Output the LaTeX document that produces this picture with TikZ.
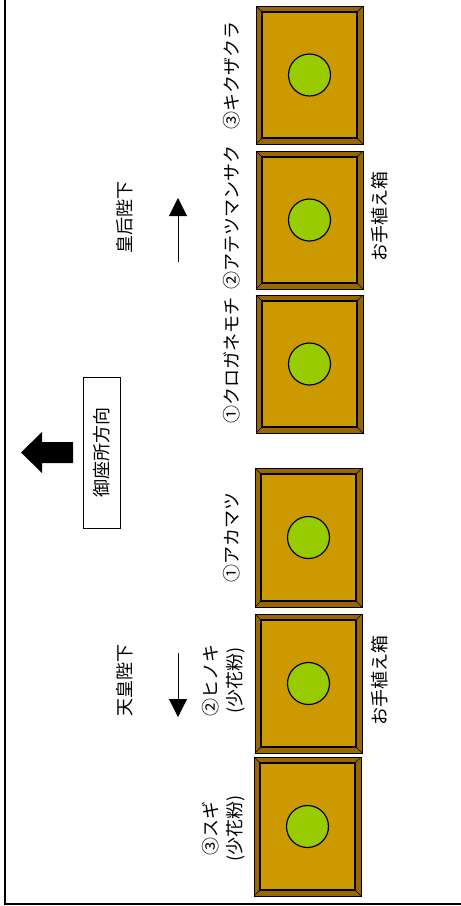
\documentclass[tikz,border=0pt]{standalone}
\usepackage{fontspec}
\setmainfont{Noto Sans CJK JP}
\usetikzlibrary{arrows.meta,positioning,calc}
\definecolor{boxdark}{HTML}{996600}
\definecolor{boxlight}{HTML}{CC9900}
\definecolor{leafgreen}{HTML}{99CC00}

% one planter box: name, x0, y0, x1, y1
\newcommand{\planter}[5]{%
\draw[fill=boxdark, line width=1pt] (#2,#3) rectangle (#4,#5);
\draw[fill=boxlight, line width=1.8pt] (#2+6,#3+6) rectangle (#4-6,#5-6);
\draw[line width=.6pt] (#2,#3) -- ++(6,6) (#4,#3) -- ++(-6,6) (#2,#5) -- ++(6,-6) (#4,#5) -- ++(-6,-6);
\node[tree] (#1) at ({(#2+#4)/2},{(#3+#5)/2}) {};
}

\begin{document}
\begin{tikzpicture}[x=1pt, y=-1pt,
  every node/.style={font=\fontsize{18}{24}\selectfont},
  lbl/.style={rotate=90, inner sep=0pt, align=center},
  tree/.style={circle, draw, fill=leafgreen, minimum size=42pt, inner sep=0pt, line width=1.2pt},
  thinarrow/.style={line width=.8pt, -{Triangle[length=18pt,width=18pt]}}]
\useasboundingbox (0,0) rectangle (461,906);
\fill[white] (0,0) rectangle (461,906);
% outer frame (only left and bottom edges show)
\draw[line width=2pt] (4.5,-10) -- (4.5,903.5) -- (475,903.5);

% planter boxes, top to bottom
\planter{kikuzakura}{256}{6}{363}{144}
\planter{atetsu}{256}{151}{363}{289}
\planter{kurogane}{256}{295}{363}{433}
\planter{akamatsu}{255}{468}{362}{607}
\planter{hinoki}{255}{614}{362}{753}
\planter{sugi}{254}{757}{361}{896}

% tree names
\node[lbl] (kikuzakura-l) at (232,75) {③キクザクラ};
\node[lbl] (atetsu-l) at (232,217) {②アテツマンサク};
\node[lbl] (kurogane-l) at (232,360) {①クロガネモチ};
\node[lbl] (akamatsu-l) at (232,537) {①アカマツ};
\node[lbl] (hinoki-l) at (224,680) {②ヒノキ\\(少花粉)};
\node[lbl] (sugi-l) at (224,828) {③スギ\\(少花粉)};

\node[lbl] (otaue-kogo) at (380,216) {お手植え箱};
\node[lbl] (otaue-tenno) at (380,680) {お手植え箱};

% who planted which side
\node[lbl] (kogo) at (125,217) {皇后陛下};
\node[lbl] (tenno) at (125,680) {天皇陛下};
\coordinate (kogo-s) at (178,262); \coordinate (kogo-e) at (178,198);
\coordinate (tenno-s) at (178,653); \coordinate (tenno-e) at (178,717);
\draw[thinarrow] (kogo-s) -- (kogo-e);
\draw[thinarrow] (tenno-s) -- (tenno-e);

% direction of the Gozasho
\node[lbl, draw, line width=.8pt, minimum width=151pt, minimum height=37pt, fill=white] (gozasho) at (101.5,452.5) {御座所方向};
\fill (21,452.5) -- (42,432) -- (42,442) -- (73,442) -- (73,463) -- (42,463) -- (42,473) -- cycle;
\end{tikzpicture}
\end{document}
